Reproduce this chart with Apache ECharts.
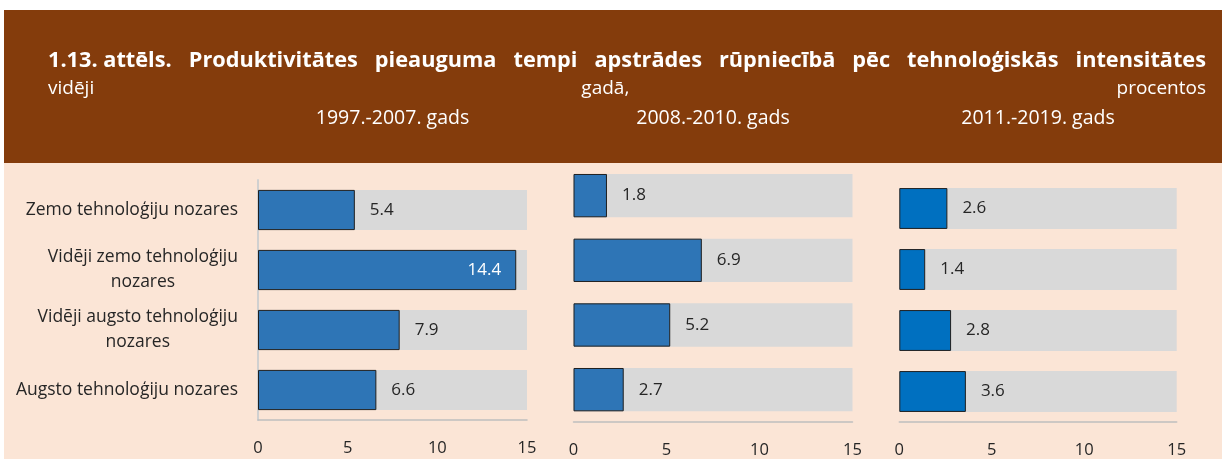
<!DOCTYPE html>
<html><head><meta charset="utf-8">
<script src="https://cdn.jsdelivr.net/npm/echarts@6/dist/echarts.min.js"></script>
<style>html,body{margin:0;padding:0;background:#fff}#c{width:1222px;height:459px}</style>
</head><body><div id="c"></div>
<script>
// ---- data ----
const categories = ['Zemo tehnoloģiju nozares', 'Vidēji zemo tehnoloģiju nozares', 'Vidēji augsto tehnoloģiju nozares', 'Augsto tehnoloģiju nozares'];
const periods = ['1997.-2007. gads', '2008.-2010. gads', '2011.-2019. gads'];
const values1997 = [5.4, 14.4, 7.9, 6.6];
const values2008 = [1.8, 6.9, 5.2, 2.7];
const values2011 = [2.6, 1.4, 2.8, 3.6];
const axisMin = 0, axisMax = 15, axisStep = 5;
const titleWords = ['1.13. attēls.', 'Produktivitātes', 'pieauguma', 'tempi', 'apstrādes', 'rūpniecībā', 'pēc', 'tehnoloģiskās', 'intensitātes'];
const subtitleWords = ['vidēji', 'gadā,', 'procentos'];

// ---- layout / style ----
const FONT = '"Open Sans", "Noto Sans", sans-serif';
const panels = [
  { values: values1997, left: 258, width: 269, top: 180, height: 240, color: '#2E75B6', showCat: true },
  { values: values2008, left: 573.5, width: 279, top: 163.3, height: 260, color: '#2E75B6', showCat: false },
  { values: values2011, left: 899.3, width: 277.4, top: 178, height: 245, color: '#0070C0', showCat: false }
];

const ctx = document.createElement('canvas').getContext('2d');
function measure(t, font) { ctx.font = font; return ctx.measureText(t).width; }
function justify(words, font, x0, x1, y) {
  const widths = words.map(w => measure(w, font));
  const gap = (x1 - x0 - widths.reduce((a, b) => a + b, 0)) / (words.length - 1);
  let x = x0;
  return words.map((w, i) => {
    const el = { type: 'text', x: x, y: y, silent: true,
      style: { text: w, fill: '#fff', font: font, textAlign: 'left', textVerticalAlign: 'middle' } };
    x += widths[i] + gap;
    return el;
  });
}
// title size chosen so that the justified word gap is ~17px
const baseW = titleWords.reduce((s, w) => s + measure(w, 'bold 20px ' + FONT), 0);
let titleSize = 20 * (1158 - 17 * (titleWords.length - 1)) / baseW;
titleSize = Math.max(18, Math.min(24, titleSize));
const titleFont = 'bold ' + titleSize.toFixed(2) + 'px ' + FONT;
const subFont = '19px ' + FONT;
const graphics = [
  { type: 'rect', shape: { x: 4, y: 10, width: 1218, height: 153 }, style: { fill: '#843C0C' }, z: -10, silent: true },
  { type: 'rect', shape: { x: 4, y: 163, width: 1218, height: 296 }, style: { fill: '#FBE5D6' }, z: -10, silent: true }
].concat(justify(titleWords, titleFont, 48, 1206, 61))
 .concat(justify(subtitleWords, subFont, 48, 1206, 89));

panels.forEach((p, i) => {
  graphics.push({ type: 'text', x: p.left + p.width / 2, y: 118, silent: true,
    style: { text: periods[i], fill: '#fff', font: '19.5px ' + FONT, textAlign: 'center', textVerticalAlign: 'middle' } });
});

function wrapCat(v) {
  const lines = v.length > 28 ? [v.slice(0, v.lastIndexOf(' ')), v.slice(v.lastIndexOf(' ') + 1)] : [v];
  return lines.map(l => '{c|' + l + '}').join('\n');
}

const option = {
  animation: false,
  backgroundColor: '#ffffff',
  graphic: graphics,
  grid: panels.map(p => ({ left: p.left, width: p.width, top: p.top, height: p.height, containLabel: false })),
  xAxis: panels.map((p, i) => ({
    type: 'value', gridIndex: i, min: axisMin, max: axisMax, interval: axisStep,
    splitLine: { show: false }, axisTick: { show: false },
    axisLine: { show: true, lineStyle: { color: '#BFBFBF', width: 1.5 } },
    axisLabel: { fontSize: 16.5, color: '#262626', fontFamily: FONT, margin: 20 }
  })),
  yAxis: panels.map((p, i) => ({
    type: 'category', gridIndex: i, data: categories, inverse: true,
    axisTick: { show: false },
    axisLine: { show: p.showCat, lineStyle: { color: '#D0D0D0', width: 2 } },
    axisLabel: {
      show: p.showCat, margin: 20, align: 'right', formatter: wrapCat,
      rich: { c: { align: 'center', fontSize: 17.5, lineHeight: 25, color: '#262626', fontFamily: FONT } }
    }
  })),
  series: panels.map((p, i) => ({
    type: 'bar', xAxisIndex: i, yAxisIndex: i, barWidth: '67%',
    showBackground: true, backgroundStyle: { color: '#D9D9D9' },
    itemStyle: { color: p.color, borderColor: '#1F1F1F', borderWidth: 1 },
    label: { show: true, position: 'right', distance: 15, fontSize: 17, color: '#262626', fontFamily: FONT,
      formatter: d => d.value.toFixed(1) },
    data: p.values.map(v => v > 12 ? { value: v, label: { position: 'insideRight', color: '#ffffff' } } : v)
  }))
};

const chart = echarts.init(document.getElementById('c'), null, { renderer: 'canvas' });
chart.setOption(option);
</script></body></html>
